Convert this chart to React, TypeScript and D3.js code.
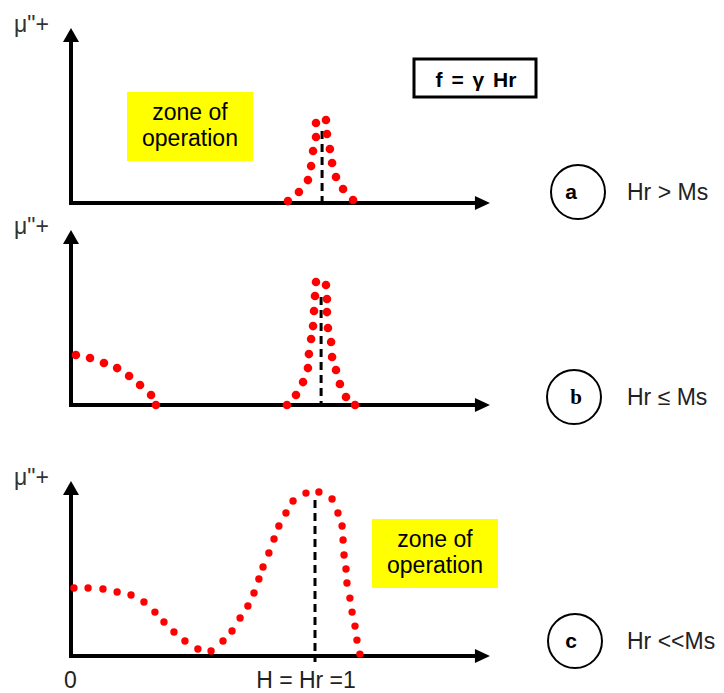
import React from 'react';
import * as d3 from 'd3';

// [H / Hr, mu'' (relative)]
const peakA: [number, number][] = [
  [0.889, 0.011], [0.934, 0.063], [0.971, 0.131], [0.984, 0.211], [0.992, 0.297],
  [1.004, 0.377], [1.004, 0.457], [1.045, 0.474], [1.049, 0.394], [1.061, 0.309],
  [1.07, 0.229], [1.086, 0.149], [1.115, 0.08], [1.156, 0.017],
];

const lowB: [number, number][] = [
  [0.02, 0.286], [0.078, 0.269], [0.135, 0.24], [0.189, 0.211], [0.238, 0.166],
  [0.283, 0.114], [0.328, 0.057], [0.348, 0.0],
];

const peakB: [number, number][] = [
  [0.885, 0.0], [0.922, 0.057], [0.951, 0.131], [0.971, 0.211], [0.975, 0.291],
  [0.984, 0.377], [0.992, 0.451], [0.996, 0.537], [1.0, 0.623], [1.004, 0.703],
  [1.045, 0.686], [1.049, 0.606], [1.049, 0.531], [1.053, 0.44], [1.066, 0.36],
  [1.07, 0.274], [1.086, 0.2], [1.102, 0.12], [1.127, 0.046], [1.164, 0.0],
];

const curveC: [number, number][] = [
  [0.012, 0.389], [0.07, 0.389], [0.131, 0.383], [0.189, 0.366], [0.246, 0.349],
  [0.299, 0.309], [0.344, 0.251], [0.381, 0.194], [0.422, 0.137], [0.467, 0.086],
  [0.52, 0.04], [0.574, 0.029], [0.623, 0.086], [0.66, 0.143], [0.693, 0.217],
  [0.725, 0.286], [0.75, 0.36], [0.77, 0.44], [0.787, 0.509], [0.811, 0.589],
  [0.832, 0.669], [0.852, 0.743], [0.881, 0.817], [0.91, 0.886], [0.963, 0.931],
  [1.016, 0.937], [1.07, 0.897], [1.094, 0.817], [1.111, 0.743], [1.115, 0.663],
  [1.119, 0.577], [1.127, 0.497], [1.131, 0.417], [1.143, 0.331], [1.152, 0.251],
  [1.164, 0.171], [1.172, 0.091], [1.184, 0.011],
];

const panelNames = ['a', 'b', 'c'];
const conditions = ['Hr > Ms', 'Hr \u2264 Ms', 'Hr <<Ms'];
const resonanceH = [1.029, 1.025, 1.0];
const resonanceTop = [0.411, 0.617, 0.891];
const yLabel = 'μ"+';
const xTickLabels = ['0', 'H = Hr =1'];

const W = 724;
const H = 693;
const font = '"Liberation Sans", Arial, sans-serif';

const x = d3.scaleLinear().domain([0, 1]).range([71, 315]);
const xEnd = 1.717;
const yHeight = 175;

const panels = [
  { baseline: 203, series: [peakA], dotR: 4.3, circle: [578, 192], letterX: 571, letterFont: font },
  { baseline: 405, series: [lowB, peakB], dotR: 4.3, circle: [574, 397], letterX: 576, letterFont: '"Liberation Serif", serif' },
  { baseline: 656, series: [curveC], dotR: 3.7, circle: [575, 641], letterX: 571, letterFont: font },
];

const Zone = ({ x0, y0 }: { x0: number; y0: number }) => (
  <g>
    <rect x={x0} y={y0} width={126} height={69} fill="#ffff00" />
    <text x={x0 + 63} y={y0 + 28} textAnchor="middle" fontSize={23} fontFamily={font}>zone of</text>
    <text x={x0 + 63} y={y0 + 54} textAnchor="middle" fontSize={23} fontFamily={font}>operation</text>
  </g>
);

export default function App() {
  return (
    <svg width={W} height={H} style={{ position: 'absolute', left: 0, top: 0, background: '#fff' }}>
      {panels.map((p, i) => {
        const y = d3.scaleLinear().domain([0, 1]).range([p.baseline, p.baseline - yHeight]);
        const x0 = x(0);
        const top = y(1);
        const right = x(xEnd);
        return (
          <g key={i}>
            {/* axes */}
            <line x1={x0} x2={x0} y1={top + 12} y2={p.baseline + 2} stroke="#000" strokeWidth={4} />
            <path d={`M${x0},${top} L${x0 - 8},${top + 14} L${x0 + 8},${top + 14} Z`} fill="#000" />
            <line x1={x0 - 2} x2={right - 12} y1={p.baseline} y2={p.baseline} stroke="#000" strokeWidth={4} />
            <path d={`M${right},${p.baseline} L${right - 15},${p.baseline - 7} L${right - 15},${p.baseline + 7} Z`} fill="#000" />
            <text x={14} y={top + 4} fontSize={23} fontFamily={font} fill="#333">{yLabel}</text>

            {/* resonance marker */}
            <line
              x1={x(resonanceH[i])} x2={x(resonanceH[i])}
              y1={y(resonanceTop[i])} y2={i === 2 ? p.baseline + 6 : p.baseline}
              stroke="#000" strokeWidth={3} strokeDasharray="8 5"
            />

            {/* dotted curves */}
            {p.series.map((s, j) => (
              <g key={j}>
                {s.map((d, k) => (
                  <circle key={k} cx={x(d[0])} cy={y(d[1])} r={p.dotR} fill="#ff0000" />
                ))}
              </g>
            ))}

            {/* case marker */}
            <circle cx={p.circle[0]} cy={p.circle[1]} r={27} fill="none" stroke="#000" strokeWidth={2} />
            <text x={p.letterX} y={p.circle[1] + 7} textAnchor="middle" fontSize={21}
              fontWeight="bold" fontFamily={p.letterFont}>{panelNames[i]}</text>
            <text x={627} y={p.circle[1] + 8} fontSize={23} fontFamily={font} fill="#222">{conditions[i]}</text>
          </g>
        );
      })}

      <Zone x0={127} y0={92} />
      <Zone x0={372} y0={519} />

      <rect x={414} y={59} width={122} height={38} fill="none" stroke="#000" strokeWidth={3} />
      <text x={476} y={87} textAnchor="middle" fontSize={21} fontWeight="bold" fontFamily={font}
        wordSpacing={3}>f = γ Hr</text>

      <text x={64} y={688} fontSize={23} fontFamily={font} fill="#222">{xTickLabels[0]}</text>
      <text x={x(1) - 9} y={688} textAnchor="middle" fontSize={23} fontFamily={font} fill="#222">{xTickLabels[1]}</text>
    </svg>
  );
}
